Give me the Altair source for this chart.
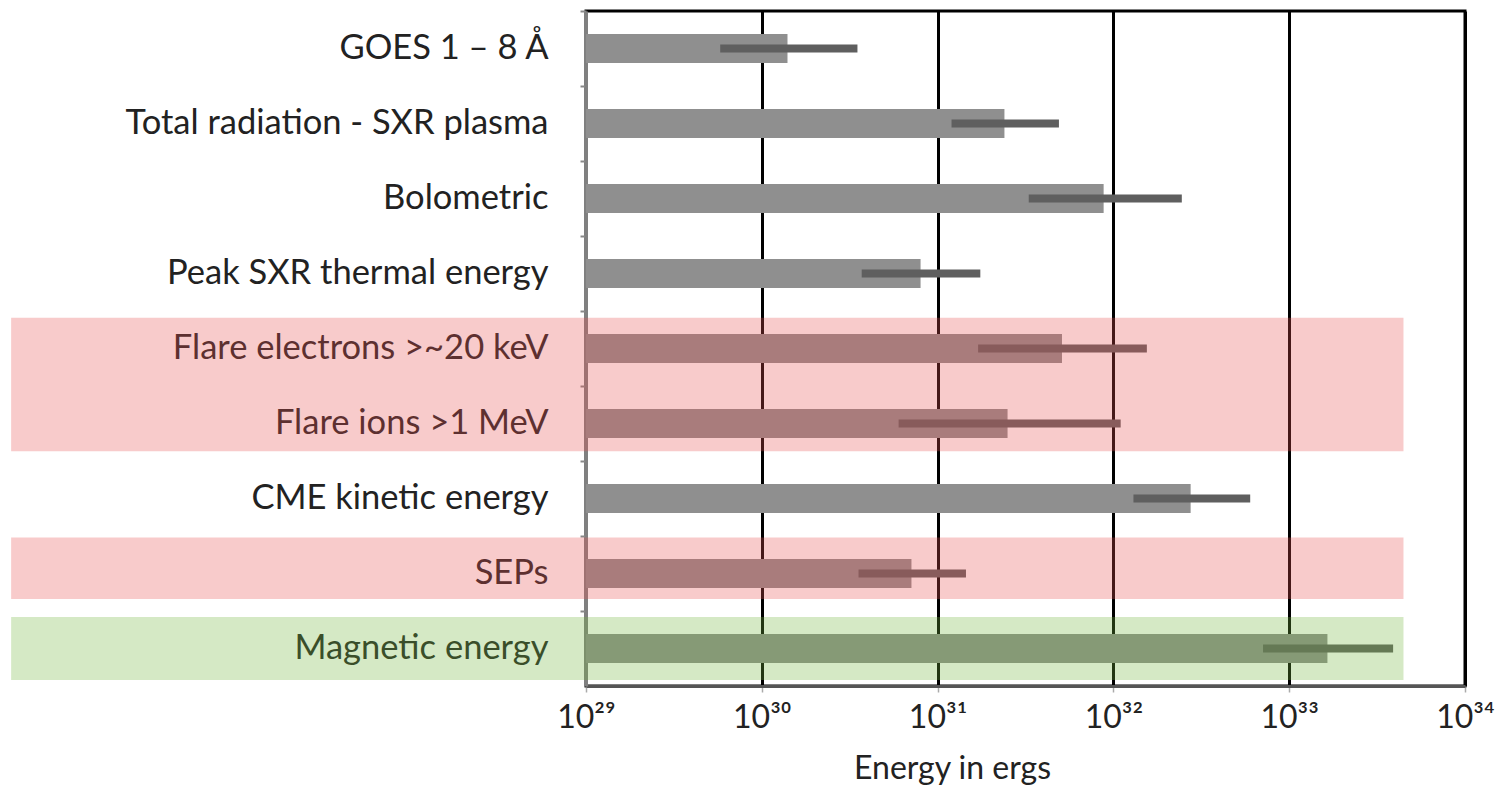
import altair as alt
import pandas as pd

# ---- data ----
categories = [
    "GOES 1 – 8 Å",
    "Total radiation - SXR plasma",
    "Bolometric",
    "Peak SXR thermal energy",
    "Flare electrons >~20 keV",
    "Flare ions >1 MeV",
    "CME kinetic energy",
    "SEPs",
    "Magnetic energy",
]
energy = [1.4e30, 2.4e31, 8.8e31, 8.0e30, 5.1e31, 2.5e31, 2.75e32, 7.1e30, 1.65e33]
err_low = [5.8e29, 1.2e31, 3.3e31, 3.7e30, 1.7e31, 6.0e30, 1.3e32, 3.55e30, 7.1e32]
err_high = [3.5e30, 4.9e31, 2.45e32, 1.75e31, 1.55e32, 1.1e32, 6.0e32, 1.45e31, 3.9e33]
axis_min = 1e29

exponents = [29, 30, 31, 32, 33, 34]

# highlight bands (in row units, 0 = top of the plot)
band_top = [4.09, 7.02, 8.08]
band_bottom = [5.87, 7.84, 8.92]
band_left = [10 ** 25.73] * 3
band_right = [10 ** 33.65] * 3
band_color = ["#e85252", "#e85252", "#73b63e"]

# ---- build tables ----
df = pd.DataFrame({
    "cat": categories,
    "base": [axis_min] * len(categories),
    "value": energy,
    "lo": err_low,
    "hi": err_high,
})
bands = pd.DataFrame({
    "y0": band_top, "y1": band_bottom,
    "x0": band_left, "x1": band_right,
    "color": band_color,
})

sup = str.maketrans("0123456789", "⁰¹²³⁴⁵⁶⁷⁸⁹")
tick_labels = ["10" + str(e).translate(sup) for e in exponents]
label_expr = "''"
for e, lab in reversed(list(zip(exponents, tick_labels))):
    label_expr = f"round(log(datum.value)/LN10) == {e} ? '{lab}' : ({label_expr})"

FONT = "Lato"
W, H = 879, 675

xscale = alt.Scale(type="log", domain=[1e29, 1e34], nice=False)
xaxis = alt.Axis(
    title="Energy in ergs",
    titleFont=FONT, titleFontSize=32, titleFontWeight="normal", titleColor="#222222",
    titleX=366, titleY=92, titleAlign="center", titleBaseline="alphabetic",
    values=[10.0 ** e for e in exponents],
    labelExpr=label_expr,
    labelFont=FONT, labelFontSize=32, labelColor="#222222", labelPadding=10,
    labelFlush=False, labelOverlap=False,
    tickSize=6, tickColor="#aaaaaa", tickWidth=1.5,
    domainColor="#555555", domainWidth=3,
    grid=True, gridColor="#000000", gridWidth=3, gridOpacity=1,
)

band_h = H / len(categories)
yaxis = alt.Axis(
    title=None,
    labelFont=FONT, labelFontSize=34.5, labelColor="#222222",
    labelPadding=32, labelLimit=700,
    tickSize=6, tickColor="#888888", tickWidth=2,
    tickOffset=-band_h / 2, labelOffset=band_h / 2,
    domainColor="#808080", domainWidth=3, grid=False,
)
yscale = alt.Scale(paddingInner=0, paddingOuter=0)

bars = alt.Chart(df).mark_bar(size=29, color="#8f8f8f").encode(
    x=alt.X("base:Q", scale=xscale, axis=xaxis),
    x2="value:Q",
    y=alt.Y("cat:N", sort=categories, scale=yscale, axis=yaxis),
)

errs = alt.Chart(df).mark_bar(size=8, color="#5f5f5f").encode(
    x=alt.X("lo:Q"),
    x2="hi:Q",
    y=alt.Y("cat:N", sort=categories, scale=yscale, axis=None),
)

band_layer = alt.Chart(bands).mark_rect(opacity=0.3).encode(
    x=alt.X("x0:Q"),
    x2="x1:Q",
    y=alt.Y("y0:Q", scale=alt.Scale(domain=[0, 9], reverse=True, nice=False, zero=False), axis=None),
    y2="y1:Q",
    color=alt.Color("color:N", scale=None),
)

chart = alt.layer(bars, errs, band_layer).resolve_scale(y="independent").properties(
    width=W,
    height=H,
    padding={"left": 578, "top": 3, "right": 31, "bottom": 100},
    autosize=alt.AutoSizeParams(type="none"),
).configure_view(stroke="#000000", strokeWidth=3)

chart.save("out.html", embed_options={"renderer": "svg", "actions": False})
